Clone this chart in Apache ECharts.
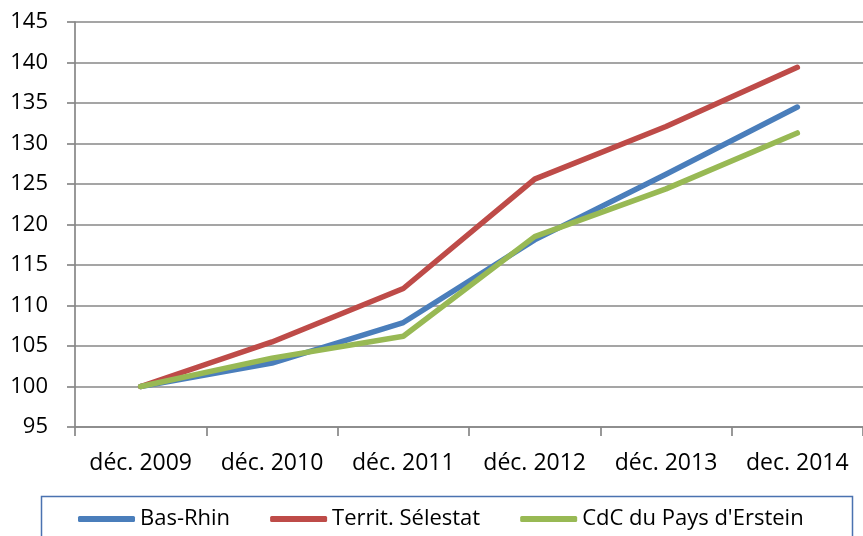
<!DOCTYPE html>
<html>
<head>
<meta charset="utf-8">
<script src="https://cdn.jsdelivr.net/npm/echarts@6/dist/echarts.min.js"></script>
<style>html,body{margin:0;padding:0;background:#fff;}#c{width:863px;height:536px;}</style>
</head>
<body>
<div id="c"></div>
<script>
const categories = ['déc. 2009', 'déc. 2010', 'déc. 2011', 'déc. 2012', 'déc. 2013', 'dec. 2014'];
const basRhin = [100, 102.9, 107.9, 118.1, 126.2, 134.5];
const territSelestat = [100, 105.5, 112.1, 125.6, 132.1, 139.4];
const cdcErstein = [100, 103.5, 106.2, 118.5, 124.4, 131.3];
const yTicks = { min: 95, max: 145, interval: 5 };

const FONT = '"Open Sans", "Noto Sans", sans-serif';
const gridColor = '#878787';

function lineSeries(name, data, color) {
  return {
    name: name, type: 'line', data: data, symbol: 'none', smooth: false,
    lineStyle: { width: 5.5, color: color, cap: 'round', join: 'round' },
    itemStyle: { color: color }
  };
}

const chart = echarts.init(document.getElementById('c'), null, { renderer: 'canvas' });
chart.setOption({
  animation: false,
  backgroundColor: '#ffffff',
  textStyle: { fontFamily: FONT },
  grid: { left: 75, top: 22, right: -4, bottom: 109, containLabel: false },
  xAxis: {
    type: 'category', data: categories, boundaryGap: true,
    axisLine: { lineStyle: { color: gridColor, width: 1.7 } },
    axisTick: { show: true, length: 9, inside: false, lineStyle: { color: gridColor, width: 1.7 } },
    axisLabel: { color: '#000', fontSize: 23, fontFamily: FONT, margin: 25, interval: 0 },
    splitLine: { show: false }
  },
  yAxis: {
    type: 'value', min: yTicks.min, max: yTicks.max, interval: yTicks.interval,
    axisLine: { show: true, lineStyle: { color: gridColor, width: 1.7 } },
    axisTick: { show: true, length: 8, inside: false, lineStyle: { color: gridColor, width: 1.7 } },
    axisLabel: { color: '#000', fontSize: 22, fontFamily: FONT, margin: 27 },
    splitLine: { show: true, lineStyle: { color: gridColor, width: 1.7 } }
  },
  legend: {
    left: 39, top: 494,
    padding: [14, 0, 10, 39],
    itemWidth: 57, itemHeight: 6, itemGap: 40,
    icon: 'roundRect',
    textStyle: { color: '#000', fontSize: 22, fontFamily: FONT },
    data: ['Bas-Rhin', 'Territ. Sélestat', "CdC du Pays d'Erstein"]
  },
  graphic: [{
    type: 'rect', left: 39, top: 494, silent: true,
    shape: { width: 811, height: 60 },
    style: { fill: 'none', stroke: '#4a72b0', lineWidth: 1.5 }
  }],
  series: [
    lineSeries('Bas-Rhin', basRhin, '#4a7ebb'),
    lineSeries('Territ. Sélestat', territSelestat, '#be4b48'),
    lineSeries("CdC du Pays d'Erstein", cdcErstein, '#98b954')
  ]
});
</script>
</body>
</html>
